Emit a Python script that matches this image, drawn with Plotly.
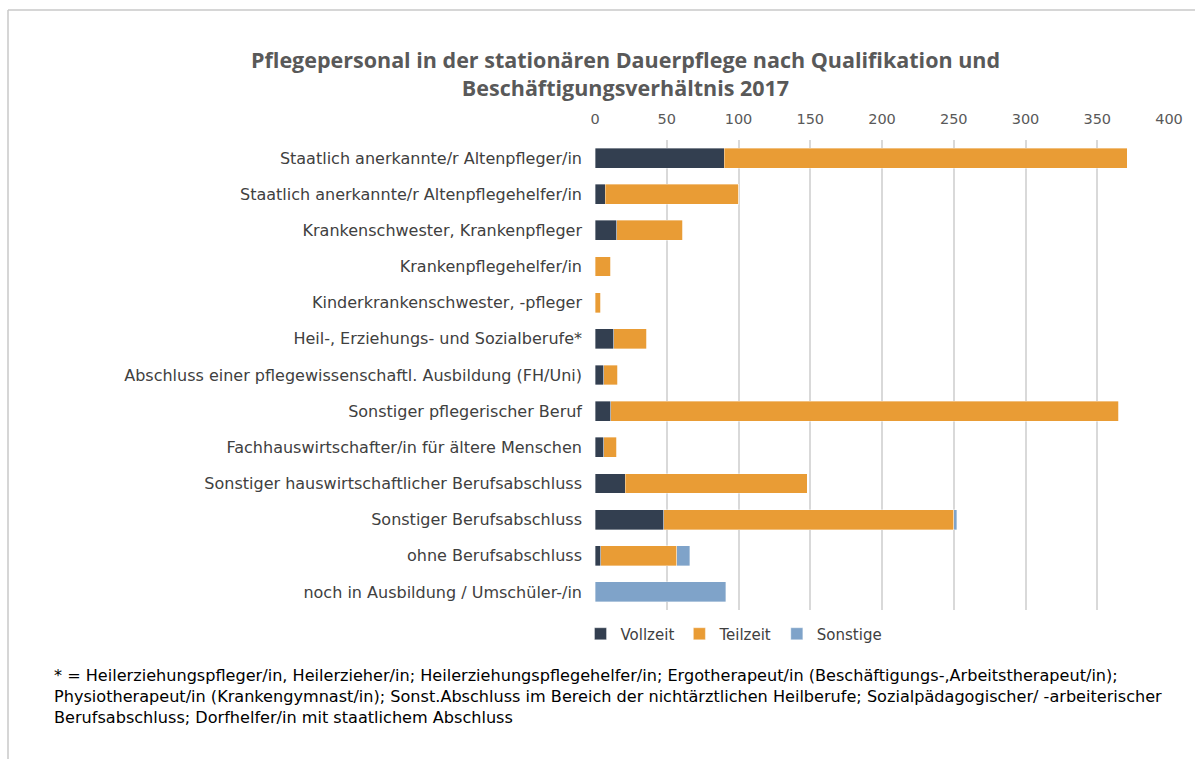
import plotly.graph_objects as go

categories = [
    "Staatlich anerkannte/r Altenpfleger/in",
    "Staatlich anerkannte/r Altenpflegehelfer/in",
    "Krankenschwester, Krankenpfleger",
    "Krankenpflegehelfer/in",
    "Kinderkrankenschwester, -pfleger",
    "Heil-, Erziehungs- und Sozialberufe*",
    "Abschluss einer pflegewissenschaftl. Ausbildung (FH/Uni)",
    "Sonstiger pflegerischer Beruf",
    "Fachhauswirtschafter/in für ältere Menschen",
    "Sonstiger hauswirtschaftlicher Berufsabschluss",
    "Sonstiger Berufsabschluss",
    "ohne Berufsabschluss",
    "noch in Ausbildung / Umschüler-/in",
]
vollzeit = [90, 7, 15, 0, 0, 13, 6, 11, 6, 21, 48, 4, 0]
teilzeit = [281, 93, 46, 11, 4, 23, 10, 354, 9, 127, 202, 53, 0]
sonstige = [0, 0, 0, 0, 0, 0, 0, 0, 0, 0, 2, 9, 91]
x_ticks = [0, 50, 100, 150, 200, 250, 300, 350, 400]

title = "Pflegepersonal in der stationären Dauerpflege nach Qualifikation und<br>Beschäftigungsverhältnis 2017"
footnote = ("* = Heilerziehungspfleger/in, Heilerzieher/in; Heilerziehungspflegehelfer/in; Ergotherapeut/in (Beschäftigungs-,Arbeitstherapeut/in);<br>"
            "Physiotherapeut/in (Krankengymnast/in); Sonst.Abschluss im Bereich der nichtärztlichen Heilberufe; Sozialpädagogischer/ -arbeiterischer<br>"
            "Berufsabschluss; Dorfhelfer/in mit staatlichem Abschluss")

W, H = 1195, 759
L, R, T, B = 595, 26, 140, 149
pw, ph = W - L - R, H - T - B
FONT = "DejaVu Sans"

def px(x):
    return (x - L) / pw

def py(y):
    return 1 - (y - T) / ph

fig = go.Figure()
for name, vals, col in [("Vollzeit", vollzeit, "#333f50"),
                        ("Teilzeit", teilzeit, "#e99c35"),
                        ("Sonstige", sonstige, "#7fa3c9")]:
    fig.add_trace(go.Bar(y=categories, x=vals, name=name, orientation="h",
                         marker=dict(color=col, line=dict(color="rgba(255,255,255,0.6)", width=0.6))))

fig.update_layout(
    width=W, height=H,
    barmode="stack", bargap=0.45,
    paper_bgcolor="white", plot_bgcolor="white",
    margin=dict(l=L, r=R, t=T, b=B, autoexpand=False),
    font=dict(family=FONT, color="#404040"),
    showlegend=True,
    legend=dict(orientation="h", x=px(734), xanchor="center", y=py(634), yanchor="middle",
                font=dict(size=15, color="#404040"), traceorder="normal",
                itemwidth=30, tracegroupgap=0),
    xaxis=dict(side="top", range=[0, 400], tickvals=x_ticks, showgrid=True,
               gridcolor="#d9d9d9", gridwidth=1.5, zeroline=False, showline=False,
               tickfont=dict(size=14.5, color="#595959"), ticks="", ticklabelstandoff=12),
    yaxis=dict(autorange="reversed", tickfont=dict(size=16, color="#404040"),
               ticks="", showline=False, ticklabelstandoff=12),
    shapes=[
        dict(type="line", xref="paper", yref="paper", x0=px(8), x1=px(1200), y0=py(10), y1=py(10),
             line=dict(color="#c8c8c8", width=1.5)),
        dict(type="line", xref="paper", yref="paper", x0=px(8), x1=px(8), y0=py(10), y1=py(762),
             line=dict(color="#c8c8c8", width=1.5)),
    ],
    annotations=[
        dict(text="<b>" + title + "</b>", xref="paper", yref="paper", x=px(625), y=py(74),
             xanchor="center", yanchor="middle", showarrow=False, align="center",
             font=dict(size=21.5, color="#595959", family="Open Sans")),
        dict(text=footnote, xref="paper", yref="paper", x=px(52), y=py(696),
             xanchor="left", yanchor="middle", showarrow=False, align="left",
             font=dict(size=16.1, color="#000000", family=FONT)),
    ],
)

fig.write_html("out.html", config={"displayModeBar": False},
               post_script="document.body.style.margin='0';")
